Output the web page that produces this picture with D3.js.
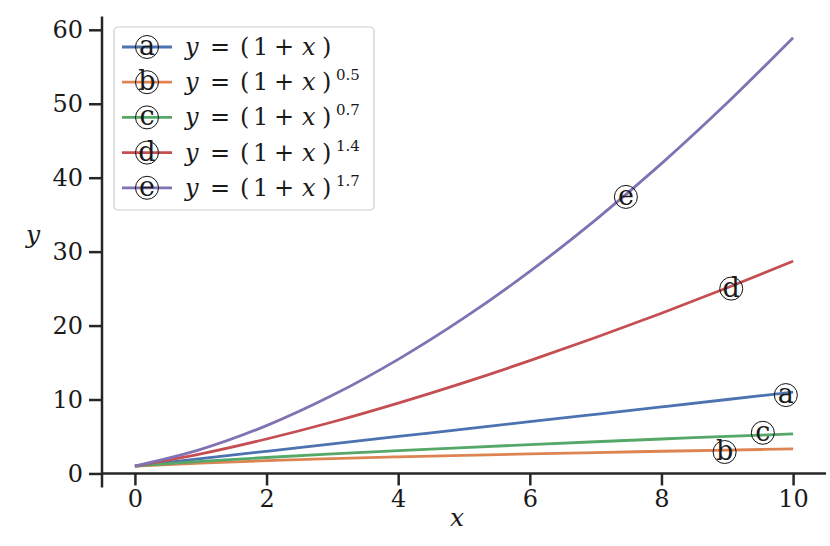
<!DOCTYPE html>
<html>
<head>
<meta charset="utf-8">
<script src="https://cdn.jsdelivr.net/npm/d3@7"></script>
<style>
  body { margin: 0; background: #fff; }
  svg text { font-family: "DejaVu Serif", serif; fill: #1a1a1a; }
</style>
</head>
<body>
<svg id="chart" width="830" height="546"></svg>
<script>
// values, x = 0..10
var xs = [0, 1, 2, 3, 4, 5, 6, 7, 8, 9, 10];
var yA = [1, 2, 3, 4, 5, 6, 7, 8, 9, 10, 11];
var yB = [1, 1.41, 1.73, 2, 2.24, 2.45, 2.65, 2.83, 3, 3.16, 3.32];
var yC = [1, 1.62, 2.16, 2.64, 3.08, 3.5, 3.9, 4.29, 4.66, 5.01, 5.36];
var yD = [1, 2.64, 4.66, 6.96, 9.52, 12.29, 15.25, 18.38, 21.67, 25.12, 28.71];
var yE = [1, 3.25, 6.47, 10.56, 15.43, 21.03, 27.33, 34.3, 41.9, 50.12, 58.93];

var letters = ["a", "b", "c", "d", "e"];
var powers = ["", "0.5", "0.7", "1.4", "1.7"];
var colors = ["#4C72B0", "#DD8452", "#55A868", "#C44E52", "#8172B3"];
// where the circled letter sits on each curve (data coords)
var markX = [9.89, 8.96, 9.54, 9.06, 7.46];
var markY = [10.6, 2.9, 5.5, 25.0, 37.4];

var xTicks = [0, 2, 4, 6, 8, 10];
var yTicks = [0, 10, 20, 30, 40, 50, 60];

var series = [yA, yB, yC, yD, yE];

var svg = d3.select("#chart");
var pLeft = 102, pRight = 826, pTop = 16.5, pBottom = 487.5;

var x = d3.scaleLinear().domain([-0.5, 10.5]).range([pLeft, pRight]);
var y = d3.scaleLinear().domain([-1.9, 61.8]).range([pBottom, pTop]);

// axes: left spine at axes edge, bottom spine at y = 0
var xAxis = svg.append("g")
  .attr("transform", "translate(0," + y(0) + ")")
  .call(d3.axisBottom(x).tickValues(xTicks).tickSize(12).tickPadding(5).tickFormat(d3.format("d")));
var yAxis = svg.append("g")
  .attr("transform", "translate(" + pLeft + ",0)")
  .call(d3.axisLeft(y).tickValues(yTicks).tickSize(13).tickPadding(6).tickFormat(d3.format("d")));

[xAxis, yAxis].forEach(function (g) {
  g.select(".domain").attr("stroke", "#262626").attr("stroke-width", 2.5);
  g.selectAll(".tick line").attr("stroke", "#262626").attr("stroke-width", 2.5);
  g.selectAll(".tick text").attr("font-size", 24).attr("font-family", "DejaVu Serif").attr("fill", "#111");
});
// spans of the spines
xAxis.select(".domain").attr("d", "M" + pLeft + ",0H" + pRight);
yAxis.select(".domain").attr("d", "M0," + pTop + "V" + pBottom);

svg.append("text").attr("x", 457).attr("y", 526).attr("text-anchor", "middle")
  .attr("font-size", 25).attr("font-style", "italic").text("x");
svg.append("text").attr("x", 33).attr("y", 243).attr("text-anchor", "middle")
  .attr("font-size", 25).attr("font-style", "italic").text("y");

var line = d3.line().curve(d3.curveMonotoneX)
  .x(function (d, i) { return x(xs[i]); })
  .y(function (d) { return y(d); });

series.forEach(function (s, k) {
  svg.append("path").datum(s)
    .attr("fill", "none").attr("stroke", colors[k]).attr("stroke-width", 2.8)
    .attr("d", line);
});

function circled(g, cx, cy, letter) {
  g.append("circle").attr("cx", cx).attr("cy", cy).attr("r", 11.5)
    .attr("fill", "none").attr("stroke", "#111").attr("stroke-width", 1);
  g.append("text").attr("x", cx).attr("y", cy + 8).attr("text-anchor", "middle")
    .attr("font-family", "Liberation Serif").attr("font-size", 27).attr("fill", "#000").text(letter);
}

letters.forEach(function (l, k) {
  circled(svg, x(markX[k]), y(markY[k]), l);
});

// legend
var leg = svg.append("g");
leg.append("rect").attr("x", 114).attr("y", 27).attr("width", 260).attr("height", 183)
  .attr("rx", 4).attr("fill", "#fff").attr("fill-opacity", 0.8)
  .attr("stroke", "#cccccc").attr("stroke-width", 1.2);

// glyph offsets of "y = (1 + x)" laid out like the math text
var pieces = [["y", 0, true], ["=", 25, false], ["(", 55, false], ["1", 68, false],
              ["+", 89, false], ["x", 117, true], [")", 137, false]];

letters.forEach(function (l, k) {
  var ry = 47 + k * 35.2;
  leg.append("line").attr("x1", 122).attr("x2", 172).attr("y1", ry).attr("y2", ry)
    .attr("stroke", colors[k]).attr("stroke-width", 2.8);
  circled(leg, 147, ry, l);
  var t = leg.append("text").attr("y", ry + 8).attr("font-size", 24).attr("fill", "#111");
  pieces.forEach(function (p) {
    t.append("tspan").attr("x", 185 + p[1]).attr("font-style", p[2] ? "italic" : null).text(p[0]);
  });
  if (powers[k]) {
    leg.append("text").attr("x", 336).attr("y", ry - 2).attr("font-size", 15).attr("fill", "#111").text(powers[k]);
  }
});
</script>
</body>
</html>
